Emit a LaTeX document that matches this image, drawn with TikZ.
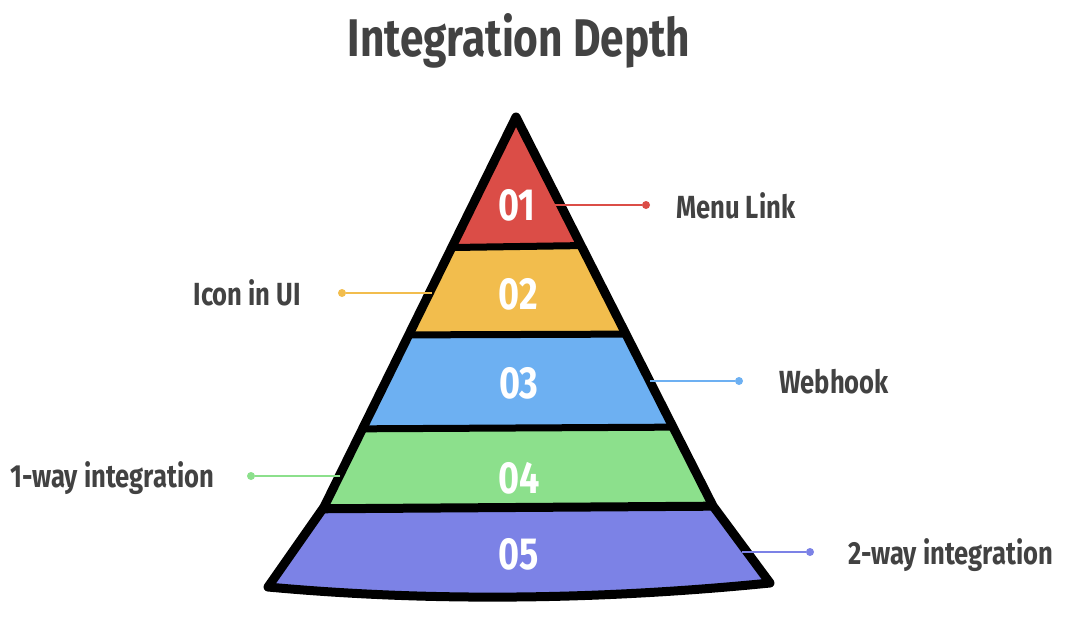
\documentclass[tikz,border=0pt]{standalone}
\usepackage{fontspec}
\setmainfont{Fira Sans}[FakeStretch=0.80]
\usetikzlibrary{positioning}
\definecolor{LayerRed}{HTML}{DB4D47}
\definecolor{LayerYellow}{HTML}{F2BD4D}
\definecolor{LayerBlue}{HTML}{6DB0F2}
\definecolor{LayerGreen}{HTML}{8CE08C}
\definecolor{LayerPurple}{HTML}{7C82E6}
\definecolor{LabelGray}{HTML}{424242}

\begin{document}
\begin{tikzpicture}[x=1pt, y=-1pt,
    num/.style={text=white, font=\fontsize{45}{45}\selectfont\bfseries, inner sep=0pt},
    lbl/.style={text=LabelGray, font=\fontsize{32}{36}\selectfont\bfseries, inner sep=0pt},
    dot/.style={circle, fill, inner sep=0pt, minimum size=8pt},
    leader/.style={line width=1.3pt},
    sep/.style={line width=7pt},
    edge/.style={line width=9pt, line join=round, line cap=round}
  ]
  \useasboundingbox (0,0) rectangle (1066,634);

  \node (title) [anchor=base, text=LabelGray, font=\fontsize{53}{56}\selectfont\bfseries, inner sep=0pt] at (519,57) {Integration Depth};

  % pyramid corners
  \coordinate (apex) at (516,117);
  \coordinate (kr) at (713,506);
  \coordinate (kl) at (324,507);
  \coordinate (bl) at (268,587);
  \coordinate (br) at (770,583);

  \begin{scope}
    \clip (apex) -- (kr) -- (br) .. controls (600,600) and (430,602) .. (bl) -- (kl) -- cycle;
    \fill[LayerRed] (200,100) rectangle (900,247);
    \fill[LayerYellow] (200,247) rectangle (900,335);
    \fill[LayerBlue] (200,335) rectangle (900,428);
    \fill[LayerGreen] (200,428) rectangle (900,507);
    \fill[LayerPurple] (200,507) rectangle (900,620);
    \draw[sep] (420,248) -- (620,245);
    \draw[sep] (380,335) -- (660,334);
    \draw[sep] (330,429) -- (700,427);
    \draw[sep, line width=9pt] (290,509) -- (740,506);
  \end{scope}
  \draw[edge] (apex) -- (kr) -- (br) .. controls (600,600) and (430,602) .. (bl) -- (kl) -- cycle;

  % layer numbers
  \node (n1) [num, anchor=base] at (517,220) {01};
  \node (n2) [num, anchor=base] at (518,309) {02};
  \node (n3) [num, anchor=base] at (519,398) {03};
  \node (n4) [num, anchor=base] at (519,493) {04};
  \node (n5) [num, anchor=base] at (519,569) {05};

  % leaders and labels
  \coordinate (p1) at (555,205);
  \node (d1) [dot, LayerRed] at (646,205) {};
  \draw[leader, LayerRed] (p1) -- (d1);
  \node (t1) [lbl, anchor=base west] at (676,218) {Menu Link};

  \coordinate (p2) at (432,293);
  \node (d2) [dot, LayerYellow] at (342,293) {};
  \draw[leader, LayerYellow] (d2) -- (p2);
  \node (t2) [lbl, anchor=base east] at (301,305) {Icon in UI};

  \coordinate (p3) at (650,381);
  \node (d3) [dot, LayerBlue] at (739,381) {};
  \draw[leader, LayerBlue] (p3) -- (d3);
  \node (t3) [lbl, anchor=base west] at (779,393) {Webhook};

  \coordinate (p4) at (340,476);
  \node (d4) [dot, LayerGreen] at (251,476) {};
  \draw[leader, LayerGreen] (d4) -- (p4);
  \node (t4) [lbl, anchor=base west] at (10,487) {1-way integration};

  \coordinate (p5) at (742,552);
  \node (d5) [dot, LayerPurple] at (810,552) {};
  \draw[leader, LayerPurple] (p5) -- (d5);
  \node (t5) [lbl, anchor=base west] at (848,564) {2-way integration};
\end{tikzpicture}
\end{document}
